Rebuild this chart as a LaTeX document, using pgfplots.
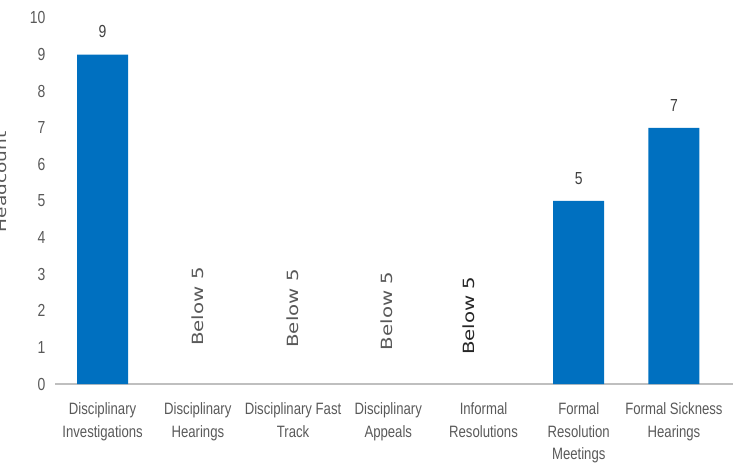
\documentclass[border=0pt]{standalone}
\usepackage{pgfplots}
\pgfplotsset{compat=1.18}
\usepackage{fontspec}
\setmainfont{Liberation Sans}
\newfontfamily\narrowfont[FakeStretch=0.8]{Liberation Sans}
\newfontfamily\tallfont[FakeStretch=1.28]{DejaVu Sans}
\definecolor{barblue}{RGB}{0,112,192}
\definecolor{labelgray}{RGB}{89,89,89}
\definecolor{axisgray}{RGB}{191,191,191}
\begin{document}
\begin{tikzpicture}
\begin{axis}[
  at={(55bp,79bp)}, anchor=south west,
  scale only axis, width=678bp, height=366bp,
  xmin=-0.5, xmax=6.62, ymin=0, ymax=10,
  axis x line*=bottom, axis y line*=left,
  y axis line style={draw=none},
  x axis line style={draw=axisgray, line width=1.4bp, -},
  xtick={0,...,6}, ytick={0,...,10},
  xtick style={draw=none}, ytick style={draw=none},
  xticklabels={Disciplinary\\Investigations, Disciplinary\\Hearings,
    Disciplinary Fast\\Track, Disciplinary\\Appeals, Informal\\Resolutions,
    Formal\\Resolution\\Meetings, Formal Sickness\\Hearings},
  xticklabel style={align=center, text=labelgray,
    font=\narrowfont\fontsize{16.5}{22.5}\selectfont, yshift=-11bp},
  yticklabel style={text=labelgray, font=\narrowfont\fontsize{17.5}{18}\selectfont, xshift=-6bp},
  /pgf/number format/assume math mode=true,
  ybar, bar width=51bp,
  nodes near coords,
  every node near coord/.append style={text=black!75,
    font=\narrowfont\fontsize{17.5}{18}\selectfont, yshift=13bp},
  clip=false,
]
\addplot[fill=barblue, draw=none] coordinates {(0,9) (5,5) (6,7)};
\node[rotate=90, anchor=west, inner sep=0, text=labelgray, font=\tallfont\fontsize{15.5}{17}\selectfont] at (axis cs:1,1.04) {Below 5};
\node[rotate=90, anchor=west, inner sep=0, text=labelgray, font=\tallfont\fontsize{15.5}{17}\selectfont] at (axis cs:2,0.99) {Below 5};
\node[rotate=90, anchor=west, inner sep=0, text=labelgray, font=\tallfont\fontsize{15.5}{17}\selectfont] at (axis cs:2.98,0.92) {Below 5};
\node[rotate=90, anchor=west, inner sep=0, text=black!85, font=\tallfont\fontsize{15.5}{17}\selectfont] at (axis cs:3.85,0.79) {Below 5};
\end{axis}
\node[rotate=90, anchor=base, inner sep=0, text=labelgray, font=\tallfont\fontsize{14.5}{16}\selectfont] at (6.5bp,281bp) {Headcount};
\pgfresetboundingbox
\path (0,0) rectangle (733bp,463bp);
\end{tikzpicture}
\end{document}
